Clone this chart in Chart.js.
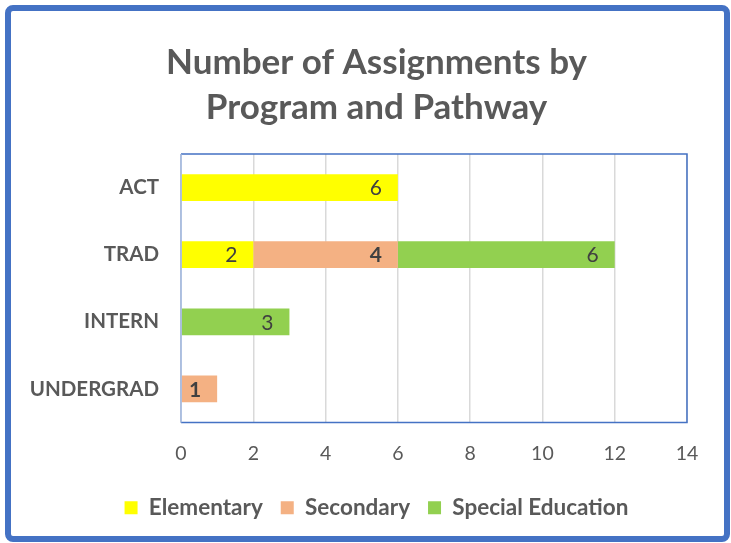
<!DOCTYPE html>
<html>
<head>
<meta charset="utf-8">
<script src="https://cdn.jsdelivr.net/npm/chart.js@4.4.1/dist/chart.umd.min.js"></script>
<style>
  html, body { margin: 0; padding: 0; background: #fff; }
  #wrap { position: relative; width: 731px; height: 543px; }
  #frame {
    position: absolute; left: 5px; top: 5px; width: 713px; height: 525px;
    border: 6px solid #4472C4; border-radius: 8px; pointer-events: none;
  }
  canvas { position: absolute; left: 0; top: 0; }
</style>
</head>
<body>
<div id="wrap">
  <canvas id="chart" width="731" height="543"></canvas>
  <div id="frame"></div>
</div>
<script>
// categories and series
const programs = ['ACT', 'TRAD', 'INTERN', 'UNDERGRAD'];
const elementary = [6, 2, null, null];
const secondary = [null, 4, null, 1];
const specialEd = [null, 6, 3, null];
const xMin = 0, xMax = 14, xStep = 2;

const FONT = 'Lato, "Open Sans", sans-serif';
const GRAY = '#595959';

// bar value labels, Excel "inside end" style
const valueLabels = {
    id: 'valueLabels',
    afterDatasetsDraw(chart) {
        const ctx = chart.ctx;
        ctx.save();
        ctx.textAlign = 'center';
        ctx.textBaseline = 'middle';
        ctx.fillStyle = '#404040';
        chart.data.datasets.forEach((ds, i) => {
            const meta = chart.getDatasetMeta(i);
            ctx.font = (ds.labelBold ? 'bold ' : '') + '21px ' + FONT;
            meta.data.forEach((bar, j) => {
                const v = ds.data[j];
                if (v == null) return;
                ctx.fillText(String(v), bar.x - 22, bar.y + 1);
            });
        });
        ctx.restore();
    }
};

// frame around the plot area
const plotFrame = {
    id: 'plotFrame',
    afterDraw(chart) {
        const { left, right, top, bottom } = chart.chartArea;
        const ctx = chart.ctx;
        ctx.save();
        ctx.lineWidth = 1.5;
        ctx.strokeStyle = '#4472C4';
        ctx.beginPath();
        ctx.moveTo(left, top); ctx.lineTo(right, top); ctx.lineTo(right, bottom); ctx.lineTo(left, bottom);
        ctx.stroke();
        ctx.strokeStyle = '#9db4df';
        ctx.beginPath();
        ctx.moveTo(left, top); ctx.lineTo(left, bottom);
        ctx.stroke();
        ctx.restore();
    }
};

new Chart(document.getElementById('chart'), {
    type: 'bar',
    data: {
        labels: programs,
        datasets: [
            { label: 'Elementary', data: elementary, backgroundColor: '#FFFF00' },
            { label: 'Secondary', data: secondary, backgroundColor: '#F4B183', labelBold: true },
            { label: 'Special Education', data: specialEd, backgroundColor: '#92D050' }
        ]
    },
    options: {
        indexAxis: 'y',
        responsive: false,
        animation: false,
        barPercentage: 0.4,
        categoryPercentage: 1,
        layout: { padding: { left: 22, right: 0, top: 0, bottom: 14 } },
        plugins: {
            title: {
                display: true,
                text: ['Number of Assignments by', 'Program and Pathway'],
                color: GRAY,
                font: { family: FONT, size: 35, weight: 'bold', lineHeight: 45 / 35 },
                padding: { top: 40.5, bottom: 23.5 }
            },
            legend: {
                position: 'bottom',
                labels: {
                    color: GRAY,
                    font: { family: FONT, size: 22.5, weight: 'bold' },
                    boxWidth: 13,
                    boxHeight: 13,
                    padding: 18
                }
            },
            tooltip: { enabled: false }
        },
        scales: {
            x: {
                stacked: true,
                min: xMin,
                max: xMax,
                ticks: { stepSize: xStep, color: GRAY, font: { family: FONT, size: 19.5 }, padding: 20 },
                grid: { color: '#d9d9d9', lineWidth: 1.5, drawTicks: false },
                border: { display: false },
                afterFit(scale) { scale.height = 56; }
            },
            y: {
                stacked: true,
                ticks: { color: GRAY, font: { family: FONT, size: 20.5, weight: 'bold' }, padding: 22 },
                grid: { display: false, drawTicks: false },
                border: { display: false },
                afterFit(scale) { scale.width = 159; }
            },
            // empty right-hand gutter between the plot and the frame
            gutter: {
                type: 'linear',
                position: 'right',
                display: true,
                ticks: { display: false },
                grid: { display: false, drawTicks: false },
                border: { display: false },
                afterFit(scale) { scale.width = 44; }
            }
        }
    },
    plugins: [valueLabels, plotFrame]
});
</script>
</body>
</html>
